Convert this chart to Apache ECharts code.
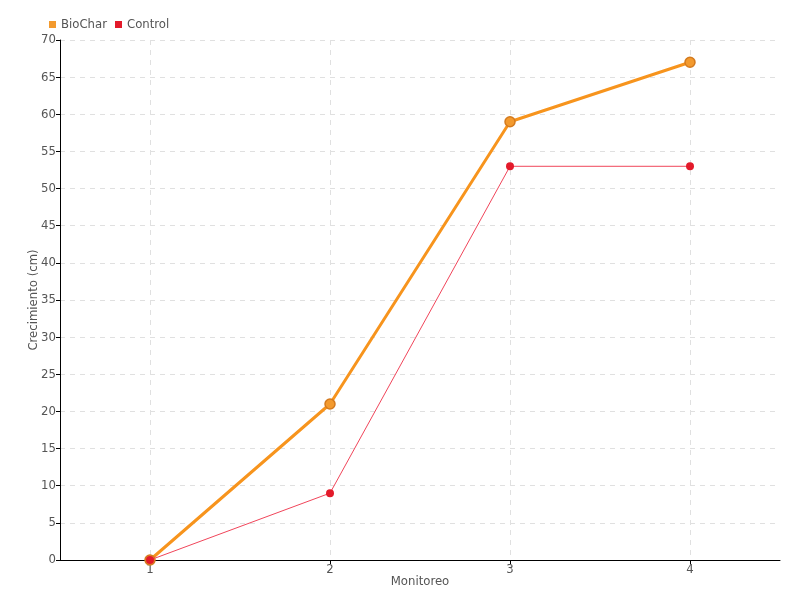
<!DOCTYPE html>
<html><head><meta charset="utf-8">
<script src="https://cdn.jsdelivr.net/npm/echarts@6/dist/echarts.min.js"></script>
<style>html,body{margin:0;padding:0;background:#fff}#c{width:800px;height:600px}</style>
</head><body><div id="c"></div>
<script>
const categories = [1, 2, 3, 4];
const biochar = [0, 21, 59, 67];
const control = [0, 9, 53, 53];
const FONT = '"DejaVu Sans Condensed", "Liberation Sans Narrow", sans-serif';
const chart = echarts.init(document.getElementById('c'));
chart.setOption({
  animation: false,
  textStyle: { fontFamily: FONT },
  legend: {
    left: 44, top: 13, itemWidth: 7, itemHeight: 7, itemGap: 8,
    icon: 'rect',
    itemStyle: { borderWidth: 0 },
    textStyle: { color: '#555', fontSize: 13, fontFamily: FONT },
    data: ['BioChar', 'Control']
  },
  grid: { left: 60, right: 20, top: 40, bottom: 40, outerBoundsMode: 'none', containLabel: false },
  xAxis: {
    type: 'value', min: 0.5, max: 4.5,
    name: 'Monitoreo', nameLocation: 'middle', nameGap: 15, nameMoveOverlap: false,
    nameTextStyle: { color: '#555', fontSize: 13, fontFamily: FONT },
    axisLine: { lineStyle: { color: '#000' } },
    axisTick: { show: true, length: 4, customValues: categories, lineStyle: { color: '#000' } },
    axisLabel: { customValues: categories, color: '#555', fontSize: 13, margin: 3, fontFamily: FONT },
    splitLine: { show: true, lineStyle: { color: '#e0e0e0', type: [5, 5] } }
  },
  yAxis: {
    type: 'value', min: 0, max: 70, interval: 5,
    name: 'Crecimiento (cm)', nameLocation: 'middle', nameGap: 20, nameMoveOverlap: false,
    nameTextStyle: { color: '#555', fontSize: 13, fontFamily: FONT },
    axisLine: { show: true, lineStyle: { color: '#000' } },
    axisTick: { show: true, length: 4, lineStyle: { color: '#000' } },
    axisLabel: { color: '#555', fontSize: 13, margin: 4, fontFamily: FONT },
    splitLine: { show: true, lineStyle: { color: '#e0e0e0', type: [5, 5] } }
  },
  series: [
    {
      name: 'BioChar', type: 'line',
      data: categories.map((c, i) => [c, biochar[i]]),
      symbol: 'circle', symbolSize: 10,
      lineStyle: { color: '#f7941d', width: 3 },
      itemStyle: { color: '#f39a2e', borderColor: '#d47a1e', borderWidth: 1.5 },
      z: 3
    },
    {
      name: 'Control', type: 'line',
      data: categories.map((c, i) => [c, control[i]]),
      symbol: 'circle', symbolSize: 8,
      lineStyle: { color: '#f0455a', width: 1 },
      itemStyle: { color: '#e31a2a', borderColor: '#e31a2a', borderWidth: 0 },
      z: 4
    }
  ]
});
</script></body></html>
